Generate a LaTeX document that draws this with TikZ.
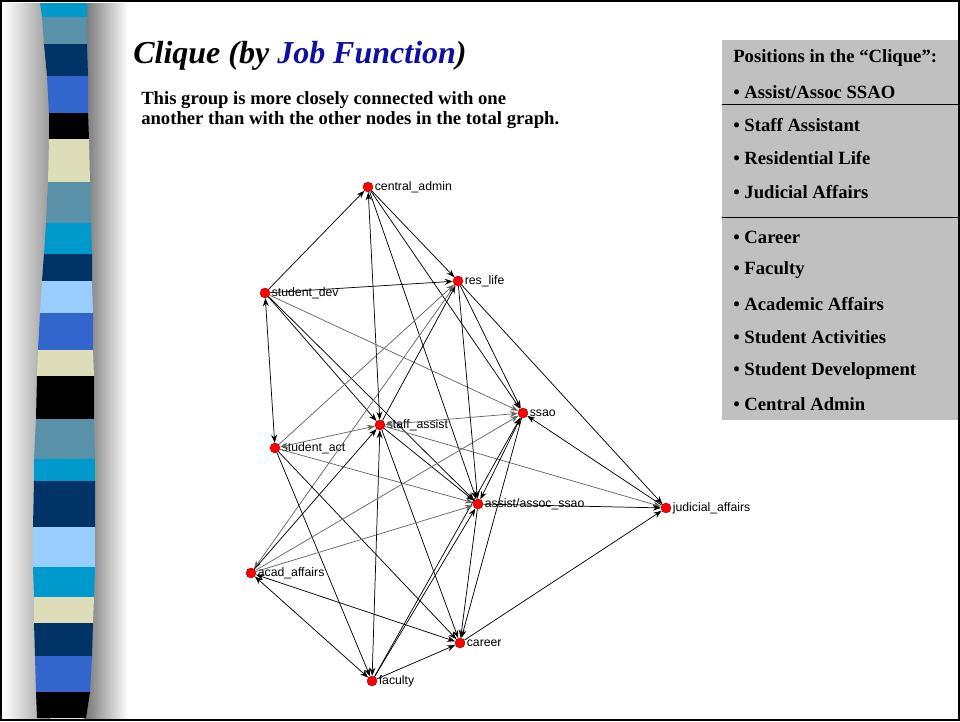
\documentclass[tikz,border=0pt]{standalone}
\usepackage{fontspec}
\setmainfont{Liberation Serif}
\newfontfamily\netfont{Liberation Sans}
\usepackage{xcolor}
\usetikzlibrary{arrows.meta, positioning}
\definecolor{stripecyan}{RGB}{0,153,204}
\definecolor{stripesteel}{RGB}{88,145,168}
\definecolor{stripenavy}{RGB}{0,51,102}
\definecolor{striperoyal}{RGB}{51,102,204}
\definecolor{stripebeige}{RGB}{221,221,185}
\definecolor{stripelight}{RGB}{153,204,255}
\definecolor{titleblue}{RGB}{16,16,160}
\definecolor{boxgray}{RGB}{192,192,192}
\tikzstyle{arrow} = [->, >={Stealth[length=6pt,width=4.4pt]}, line width=0.55pt]
\tikzstyle{faint} = [draw=black!60]
\tikzstyle{vertex} = [circle, fill=red, draw=red!60!black, line width=0.3pt, minimum size=7.5pt, inner sep=0pt]
\tikzstyle{vname} = [inner sep=1pt, font=\netfont\fontsize{9.2}{10}\selectfont]
\tikzstyle{item} = [anchor=west, inner sep=0pt, font=\fontsize{14}{16}\selectfont\bfseries]

\begin{document}
\begin{tikzpicture}[x=0.75pt, y=-0.75pt]
        \useasboundingbox (0,0) rectangle (960,721);
        % shading beside the stripe
        \shade[left color=white, right color=black!40] (3,3) rectangle (50,718);
        \shade[left color=black!55, right color=white] (84,3) rectangle (128,718);
        % striped bar
        \fill[stripecyan] (40,3) -- (87,3) -- (87,17) -- (42,17) -- cycle;
        \fill[stripesteel] (42,17) -- (87,17) -- (87,44) -- (44,44) -- cycle;
        \fill[stripenavy] (44,44) -- (87,44) -- (88,76) -- (47,76) -- cycle;
        \fill[striperoyal] (47,76) -- (88,76) -- (88,113) -- (49,113) -- cycle;
        \fill[black] (49,113) -- (88,113) -- (89,139) -- (49,139) -- cycle;
        \fill[stripebeige] (49,139) -- (89,139) -- (90,182) -- (48,182) -- cycle;
        \fill[stripesteel] (48,182) -- (90,182) -- (91,223) -- (46,223) -- cycle;
        \fill[stripecyan] (46,223) -- (91,223) -- (92,254) -- (44,254) -- cycle;
        \fill[stripenavy] (44,254) -- (92,254) -- (92,281) -- (42,281) -- cycle;
        \fill[stripelight] (42,281) -- (92,281) -- (93,313) -- (40,313) -- cycle;
        \fill[striperoyal] (40,313) -- (93,313) -- (93,350) -- (38,350) -- cycle;
        \fill[stripebeige] (38,350) -- (93,350) -- (94,376) -- (37,376) -- cycle;
        \fill[black] (37,376) -- (94,376) -- (94,419) -- (36,419) -- cycle;
        \fill[stripesteel] (36,419) -- (94,419) -- (95,459) -- (34,459) -- cycle;
        \fill[stripecyan] (34,459) -- (95,459) -- (95,481) -- (34,481) -- cycle;
        \fill[stripenavy] (34,481) -- (95,481) -- (95,527) -- (33,527) -- cycle;
        \fill[stripelight] (33,527) -- (95,527) -- (95,567) -- (33,567) -- cycle;
        \fill[stripecyan] (33,567) -- (95,567) -- (94,597) -- (34,597) -- cycle;
        \fill[stripebeige] (34,597) -- (94,597) -- (93,623) -- (34,623) -- cycle;
        \fill[stripenavy] (34,623) -- (93,623) -- (92,656) -- (35,656) -- cycle;
        \fill[striperoyal] (35,656) -- (92,656) -- (90,692) -- (36,692) -- cycle;
        \fill[black] (36,692) -- (90,692) -- (86,718) -- (37,718) -- cycle;

        % title and note
        \node[anchor=west, inner sep=0pt, font=\fontsize{24}{28}\selectfont\bfseries\itshape] (title) at (133,56) {Clique (by \textcolor{titleblue}{Job Function})};
        \node[anchor=west, inner sep=0pt, align=left, font=\fontsize{14}{15}\selectfont\bfseries] (note) at (141,110) {This group is more closely connected with one\\another than with the other nodes in the total graph.};

        % positions box
        \fill[boxgray] (722,40) rectangle (958,420);
        \draw[line width=0.75pt] (722,104) -- (958,104);
        \draw[line width=0.75pt] (722,217) -- (958,217);
        \node[item] (pos0) at (733,58) {Positions in the “Clique”:};
        \node[item] (pos1) at (733,92) {• Assist/Assoc SSAO};
        \node[item] (pos2) at (733,125) {• Staff Assistant};
        \node[item] (pos3) at (733,158) {• Residential Life};
        \node[item] (pos4) at (733,192) {• Judicial Affairs};
        \node[item] (pos5) at (733,237) {• Career};
        \node[item] (pos6) at (733,270) {• Faculty};
        \node[item] (pos7) at (733,304) {• Academic Affairs};
        \node[item] (pos8) at (733,337) {• Student Activities};
        \node[item] (pos9) at (733,371) {• Student Development};
        \node[item] (pos10) at (733,404) {• Central Admin};

        % network
        \node[vertex] (admin) at (368,187) {};
        \node[vertex] (reslife) at (458,281) {};
        \node[vertex] (stdev) at (265,293) {};
        \node[vertex] (staff) at (380,425) {};
        \node[vertex] (ssao) at (523,413) {};
        \node[vertex] (stact) at (275,448) {};
        \node[vertex] (assoc) at (478,504) {};
        \node[vertex] (judicial) at (666,508) {};
        \node[vertex] (acad) at (251,573) {};
        \node[vertex] (career) at (460,643) {};
        \node[vertex] (faculty) at (372,681) {};

        \node[vname, right=0pt of admin] (admin-name) {central\_admin};
        \node[vname, right=0pt of reslife] (reslife-name) {res\_life};
        \node[vname, right=0pt of stdev] (stdev-name) {student\_dev};
        \node[vname, right=0pt of staff] (staff-name) {staff\_assist};
        \node[vname, right=0pt of ssao] (ssao-name) {ssao};
        \node[vname, right=0pt of stact] (stact-name) {student\_act};
        \node[vname, right=0pt of assoc] (assoc-name) {assist/assoc\_ssao};
        \node[vname, right=0pt of judicial] (judicial-name) {judicial\_affairs};
        \node[vname, right=0pt of acad] (acad-name) {acad\_affairs};
        \node[vname, right=0pt of career] (career-name) {career};
        \node[vname, right=0pt of faculty] (faculty-name) {faculty};

        \draw[arrow] (stdev) -- (admin);
        \draw[arrow, <->] (staff) -- (admin);
        \draw[arrow] (admin) -- (reslife);
        \draw[arrow] (admin) -- (ssao);
        \draw[arrow] (admin) -- (assoc);
        \draw[arrow] (stdev) -- (reslife);
        \draw[arrow, faint] (stdev) -- (ssao);
        \draw[arrow] (stdev) -- (staff);
        \draw[arrow] (stdev) -- (assoc);
        \draw[arrow, <->] (stdev) -- (stact);
        \draw[arrow, faint] (stact) -- (reslife);
        \draw[arrow] (staff) -- (reslife);
        \draw[arrow, faint] (reslife) -- (acad);
        \draw[arrow] (reslife) -- (ssao);
        \draw[arrow] (reslife) -- (assoc);
        \draw[arrow] (reslife) -- (judicial);
        \draw[arrow, faint, <->] (stact) -- (staff);
        \draw[arrow, faint] (stact) -- (assoc);
        \draw[arrow] (stact) -- (faculty);
        \draw[arrow] (stact) -- (career);
        \draw[arrow, faint, <->] (staff) -- (ssao);
        \draw[arrow] (staff) -- (assoc);
        \draw[arrow, faint] (staff) -- (judicial);
        \draw[arrow, <->] (staff) -- (faculty);
        \draw[arrow] (staff) -- (career);
        \draw[arrow] (judicial) -- (ssao);
        \draw[arrow, <->] (assoc) -- (ssao);
        \draw[arrow] (ssao) -- (career);
        \draw[arrow] (faculty) -- (ssao);
        \draw[arrow] (assoc) -- (judicial);
        \draw[arrow] (assoc) -- (career);
        \draw[arrow] (faculty) -- (assoc);
        \draw[arrow] (career) -- (judicial);
        \draw[arrow] (faculty) -- (career);
        \draw[arrow, <->] (acad) -- (career);
        \draw[arrow, <->] (acad) -- (faculty);
        \draw[arrow, faint] (acad) -- (ssao);
        \draw[arrow, faint] (acad) -- (assoc);
        \draw[arrow] (acad) -- (staff);

        % frame
        \draw[line width=1.5pt] (1,1) rectangle (959,720);
    \end{tikzpicture}
\end{document}
